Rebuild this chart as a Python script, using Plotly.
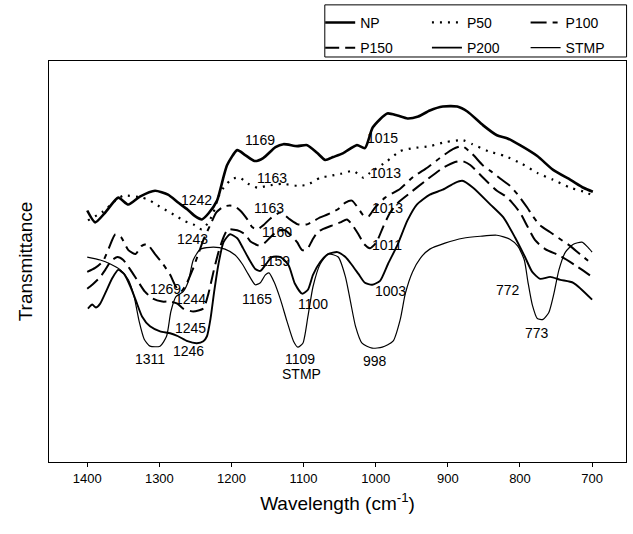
import plotly.graph_objects as go

# FTIR spectra (wavenumber in cm-1, transmittance in arbitrary offset units)
np_wn = [1400, 1389, 1375, 1357, 1343, 1327, 1306, 1288, 1274, 1261, 1250, 1241, 1232, 1220, 1211, 1206,
         1192, 1181, 1168, 1156, 1139, 1128, 1109, 1095, 1081, 1070, 1059, 1045, 1026, 1015, 1004, 984,
         970, 956, 941, 925, 907, 887, 873, 851, 832, 818, 800, 776, 754, 730, 712, 699]
np_t = [254, 242, 252, 267, 260, 268, 274, 270, 262, 255, 248, 245, 251, 264, 288, 300,
        315, 310, 304, 307, 318, 321, 319, 320, 312, 305, 308, 312, 320, 317, 338, 352,
        350, 347, 349, 355, 359, 359, 354, 340, 330, 327, 320, 309, 295, 285, 277, 273]

p50_wn = [1399, 1378, 1361, 1350, 1324, 1313, 1302, 1290, 1278, 1264, 1253, 1241, 1232, 1225, 1218, 1211,
          1199, 1188, 1177, 1164, 1150, 1130, 1109, 1095, 1077, 1063, 1049, 1031, 1017, 1008, 984, 966,
          948, 925, 904, 879, 866, 844, 821, 797, 776, 754, 730, 707, 700]
p50_t = [244, 253, 264, 269, 267, 264, 259, 254, 249, 243, 240, 235, 242, 252, 268, 277,
         286, 287, 281, 277, 279, 281, 279, 280, 287, 289, 291, 294, 287, 292, 304, 314,
         317, 319, 323, 325, 321, 314, 309, 301, 292, 285, 277, 272, 269]

p100_wn = [1400, 1389, 1378, 1370, 1361, 1353, 1343, 1333, 1325, 1317, 1306, 1296, 1285, 1277, 1270, 1263,
           1254, 1246, 1238, 1229, 1221, 1211, 1202, 1195, 1188, 1178, 1171, 1164, 1156, 1146, 1132, 1119,
           1108, 1095, 1087, 1077, 1067, 1053, 1042, 1033, 1024, 1017, 1010, 1001, 987, 966, 948, 931,
           911, 893, 880, 866, 852, 841, 827, 814, 803, 790, 782, 772, 758, 742, 730, 717, 700]
p100_t = [192, 196, 203, 216, 230, 227, 214, 210, 218, 220, 210, 201, 189, 177, 172, 179,
          194, 210, 226, 240, 252, 258, 259, 258, 254, 245, 237, 235, 239, 246, 252, 245,
          240, 240, 243, 247, 250, 255, 262, 264, 256, 249, 248, 257, 267, 276, 288, 296,
          307, 316, 319, 311, 300, 294, 286, 279, 270, 257, 248, 239, 232, 224, 218, 210, 200]

p150_wn = [1400, 1393, 1383, 1375, 1367, 1358, 1350, 1340, 1331, 1320, 1309, 1296, 1285, 1275, 1267, 1253,
           1239, 1232, 1225, 1218, 1211, 1205, 1192, 1181, 1174, 1164, 1156, 1146, 1135, 1126, 1119, 1109,
           1102, 1095, 1088, 1081, 1074, 1060, 1049, 1040, 1033, 1024, 1016, 1008, 999, 990, 980, 969,
           952, 931, 907, 890, 880, 869, 851, 832, 821, 811, 800, 789, 779, 765, 744, 724, 700]
p150_t = [175, 179, 186, 194, 203, 207, 204, 194, 184, 172, 165, 162, 162, 160, 155, 152,
          155, 170, 192, 212, 227, 235, 234, 230, 223, 219, 220, 227, 234, 234, 230, 222,
          214, 215, 224, 232, 235, 239, 242, 245, 240, 230, 220, 216, 222, 237, 252, 262,
          272, 284, 297, 303, 304, 300, 287, 274, 269, 262, 252, 237, 224, 215, 208, 199, 187]

p200_wn = [1399, 1393, 1388, 1382, 1374, 1365, 1357, 1349, 1340, 1332, 1324, 1313, 1299, 1285, 1274, 1261,
           1248, 1239, 1234, 1229, 1224, 1218, 1211, 1202, 1192, 1184, 1175, 1167, 1160, 1152, 1144, 1132,
           1121, 1112, 1102, 1094, 1087, 1077, 1066, 1053, 1042, 1033, 1024, 1015, 1005, 994, 983, 970,
           956, 943, 925, 907, 890, 880, 865, 841, 823, 807, 793, 783, 772, 758, 744, 726, 700]
p200_t = [155, 159, 156, 160, 172, 186, 194, 190, 177, 162, 147, 137, 132, 130, 127, 122,
          120, 122, 127, 145, 172, 200, 222, 230, 226, 216, 204, 195, 193, 200, 207, 207,
          199, 180, 170, 174, 189, 202, 210, 212, 207, 199, 190, 181, 179, 183, 200, 219,
          244, 260, 270, 275, 282, 284, 277, 260, 247, 227, 207, 192, 185, 187, 184, 181, 164]

stmp_wn = [1400, 1382, 1368, 1354, 1343, 1335, 1328, 1321, 1313, 1299, 1290, 1284, 1277, 1267, 1260, 1253,
           1243, 1225, 1209, 1195, 1185, 1177, 1167, 1160, 1153, 1148, 1141, 1132, 1123, 1114, 1108, 1101,
           1094, 1087, 1077, 1066, 1052, 1042, 1035, 1028, 1019, 1005, 991, 976, 966, 959, 949, 938,
           925, 904, 879, 855, 832, 814, 803, 794, 789, 783, 776, 768, 760, 753, 746, 737, 726, 714,
           706, 700]
stmp_t = [207, 204, 200, 194, 184, 167, 142, 124, 117, 117, 127, 152, 167, 172, 182, 204,
          215, 217, 215, 209, 200, 190, 179, 181, 189, 191, 182, 164, 142, 122, 116, 120,
          147, 177, 200, 210, 207, 187, 162, 137, 120, 115, 116, 122, 144, 170, 192, 206,
          215, 221, 226, 228, 229, 225, 218, 204, 182, 159, 145, 144, 151, 170, 194, 212, 220, 222,
          217, 212]

# Band assignments written next to the spectra
band_text = ["1169", "1015", "1163", "1013", "1242", "1163", "1013", "1243", "1160", "1011",
             "1159", "1269", "1244", "1165", "1100", "1003", "772", "1245", "1311", "1246",
             "1109", "STMP", "998", "773"]
band_wn = [1160, 990, 1144, 987, 1249, 1148, 984, 1254, 1137, 984,
           1139, 1292, 1257, 1164, 1087, 980, 816, 1257, 1313, 1260,
           1105, 1103, 1001, 776]
band_t = [325, 327, 287, 292, 265, 257, 257, 225, 232, 219,
          203, 175, 165, 165, 160, 173, 174, 135, 104, 112,
          104, 89, 102, 130]

x_ticks = [1400, 1300, 1200, 1100, 1000, 900, 800, 700]

FONT = "Liberation Sans, Arial, Helvetica, sans-serif"

series = [
    ("NP", np_wn, np_t, dict(width=2.6, dash="solid"), "legend"),
    ("P150", p150_wn, p150_t, dict(width=2.0, dash="14px,6px"), "legend"),
    ("P50", p50_wn, p50_t, dict(width=2.2, dash="2px,6px"), "legend2"),
    ("P200", p200_wn, p200_t, dict(width=1.9, dash="solid"), "legend2"),
    ("P100", p100_wn, p100_t, dict(width=2.0, dash="16px,6px,5px,6px"), "legend3"),
    ("STMP", stmp_wn, stmp_t, dict(width=1.2, dash="solid"), "legend3"),
]

fig = go.Figure()
for name, xs, ys, line, leg in series:
    fig.add_trace(go.Scatter(
        x=xs, y=ys, mode="lines", name=name, legend=leg, legendgroup=name,
        line=dict(color="black", shape="spline", smoothing=0.6, **line),
    ))

for txt, xv, yv in zip(band_text, band_wn, band_t):
    fig.add_annotation(x=xv, y=yv, text=txt, showarrow=False,
                       font=dict(family=FONT, size=14, color="black"),
                       xanchor="center", yanchor="middle")

legend_common = dict(
    orientation="v", xanchor="left", yanchor="top", y=1.135,
    bgcolor="rgba(0,0,0,0)", borderwidth=0, tracegroupgap=4,
    font=dict(family=FONT, size=14, color="black"),
)
fig.update_layout(
    width=633, height=534,
    margin=dict(l=49, r=7, t=57, b=72),
    paper_bgcolor="white", plot_bgcolor="white",
    font=dict(family=FONT, color="black"),
    legend=dict(x=0.47, **legend_common),
    legend2=dict(x=0.655, **legend_common),
    legend3=dict(x=0.826, **legend_common),
    xaxis=dict(
        range=[1453, 653], tickvals=x_ticks, ticks="outside", ticklen=4,
        tickcolor="black", showline=True, linecolor="black", linewidth=1, mirror=True,
        showgrid=False, zeroline=False,
        tickfont=dict(family=FONT, size=13, color="black"),
        title=dict(text="Wavelength (cm<sup>-1</sup>)", font=dict(family=FONT, size=19), standoff=12),
    ),
    yaxis=dict(
        range=[0, 405], showticklabels=False, ticks="", showline=True, linecolor="black",
        linewidth=1, mirror=True, showgrid=False, zeroline=False,
        title=dict(text="Transmittance", font=dict(family=FONT, size=19), standoff=10),
    ),
)

# frame around the legend block
fig.add_shape(type="rect", xref="paper", yref="paper",
              x0=0.478, x1=1.001, y0=1.01, y1=1.14,
              line=dict(color="black", width=1), fillcolor="rgba(0,0,0,0)")

fig.write_html("out.html")
